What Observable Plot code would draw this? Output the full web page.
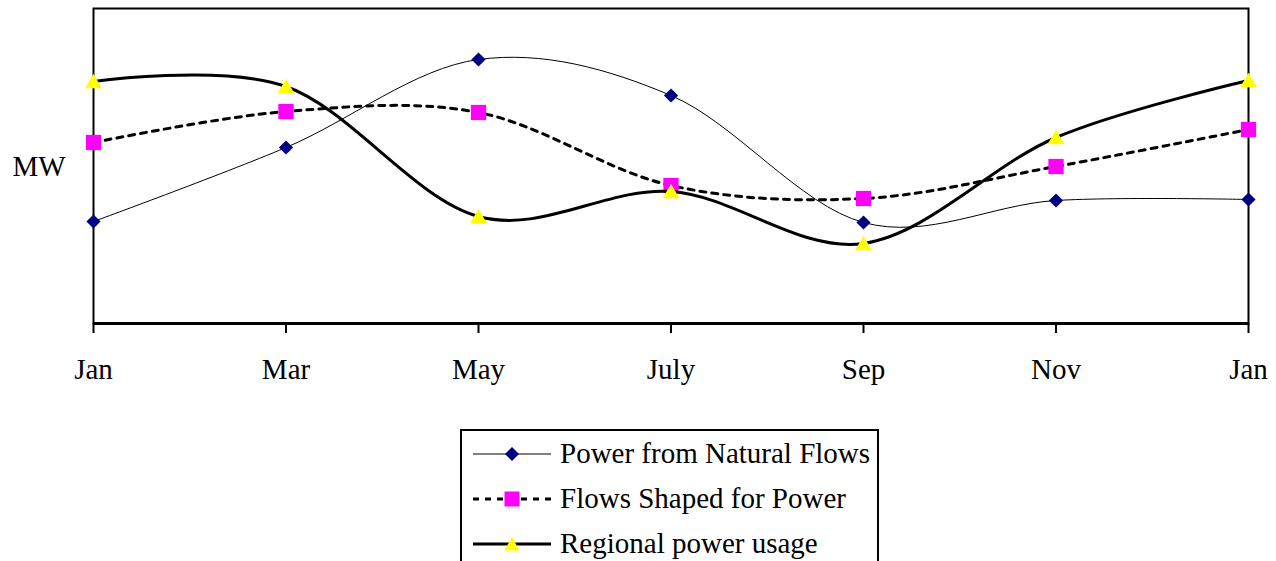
<!DOCTYPE html>
<html>
<head>
<meta charset="utf-8">
<script src="https://cdn.jsdelivr.net/npm/d3@7"></script>
<script src="https://cdn.jsdelivr.net/npm/@observablehq/plot@0.6"></script>
<style>
  html, body { margin: 0; padding: 0; background: #fff; }
  #chart svg { display: block; }
  .legend {
    margin-left: 460px; margin-top: 9px; width: 415px;
    border: 2px solid #000; font-family: "Liberation Serif", "Times New Roman", serif;
    font-size: 29px; color: #000; background: #fff;
  }
  .legend .row { display: flex; align-items: center; height: 45px; }
  .legend .row svg { display: block; margin-left: 10px; }
  .legend .row span { margin-left: 8px; white-space: nowrap; line-height: 1; }
</style>
</head>
<body>
<div id="chart"></div>
<div class="legend" id="legend"></div>
<script>
// Month tick labels (positions are index 0..6)
const months = ["Jan", "Mar", "May", "July", "Sep", "Nov", "Jan"];
// Series values (MW, arbitrary units)
const naturalFlows = [102, 176, 264, 228, 101, 123, 124];
const shapedFlows  = [181, 212, 211, 138, 125, 157, 194];
const regionalUse  = [242, 237, 107, 132, 80, 186, 243];
const seriesNames = ["Power from Natural Flows", "Flows Shaped for Power", "Regional power usage"];

const toRows = (vals) => vals.map((v, i) => ({i, v}));
const nat = toRows(naturalFlows), shp = toRows(shapedFlows), reg = toRows(regionalUse);

const font = '"Liberation Serif", "Times New Roman", serif';

const chart = Plot.plot({
  width: 1276,
  height: 420,
  marginLeft: 93,
  marginRight: 28,
  marginTop: 8,
  marginBottom: 97,
  style: {fontFamily: font, fontSize: "29px", color: "#000", background: "#fff"},
  x: {domain: [0, 6]},
  y: {domain: [0, 315]},
  marks: [
    Plot.frame({stroke: "#000", strokeWidth: 2}),
    Plot.ruleY([0], {stroke: "#000", strokeWidth: 3}),
    Plot.axisX(d3.range(months.length), {
      tickSize: 10, tickPadding: 25, strokeWidth: 2,
      tickFormat: (d) => months[d], fontSize: 29, label: null
    }),
    Plot.axisY({ticks: [], label: null, tickSize: 0}),
    Plot.text(["MW"], {frameAnchor: "left", dx: -81, dy: 1, textAnchor: "start", fontSize: 29}),
    // Natural flows
    Plot.line(nat, {x: "i", y: "v", curve: "cardinal", stroke: "#000", strokeWidth: 1}),
    Plot.dot(nat, {x: "i", y: "v", symbol: "diamond2", r: 6.4, fill: "#000080", stroke: "none"}),
    // Shaped flows
    Plot.line(shp, {x: "i", y: "v", curve: "cardinal", stroke: "#000", strokeWidth: 3, strokeDasharray: "6,6"}),
    Plot.dot(shp, {x: "i", y: "v", symbol: "square", r: 8.6, fill: "#FF00FF", stroke: "none"}),
    // Regional usage
    Plot.line(reg, {x: "i", y: "v", curve: "cardinal", stroke: "#000", strokeWidth: 3}),
    Plot.dot(reg, {x: "i", y: "v", symbol: "triangle", r: 6.2, dy: 2, fill: "#FFFF00", stroke: "none"})
  ]
});
document.getElementById("chart").appendChild(chart);

// Legend
const legendSpecs = [
  {name: seriesNames[0], width: 1, dash: null, marker: `<path d="M40,-7L47,0L40,7L33,0Z" fill="#000080"/>`},
  {name: seriesNames[1], width: 3, dash: "6,6", marker: `<rect x="32.5" y="-7.5" width="15" height="15" fill="#FF00FF"/>`},
  {name: seriesNames[2], width: 3, dash: null, marker: `<path d="M40,-7L47.5,6.5L32.5,6.5Z" fill="#FFFF00"/>`}
];
const legend = document.getElementById("legend");
for (const s of legendSpecs) {
  const row = document.createElement("div");
  row.className = "row";
  row.innerHTML = `<svg width="80" height="20" viewBox="0 -10 80 20">
      <line x1="1" x2="79" y1="0" y2="0" stroke="#000" stroke-width="${s.width}" ${s.dash ? `stroke-dasharray="${s.dash}"` : ""}/>
      ${s.marker}
    </svg><span>${s.name}</span>`;
  legend.appendChild(row);
}
</script>
</body>
</html>
